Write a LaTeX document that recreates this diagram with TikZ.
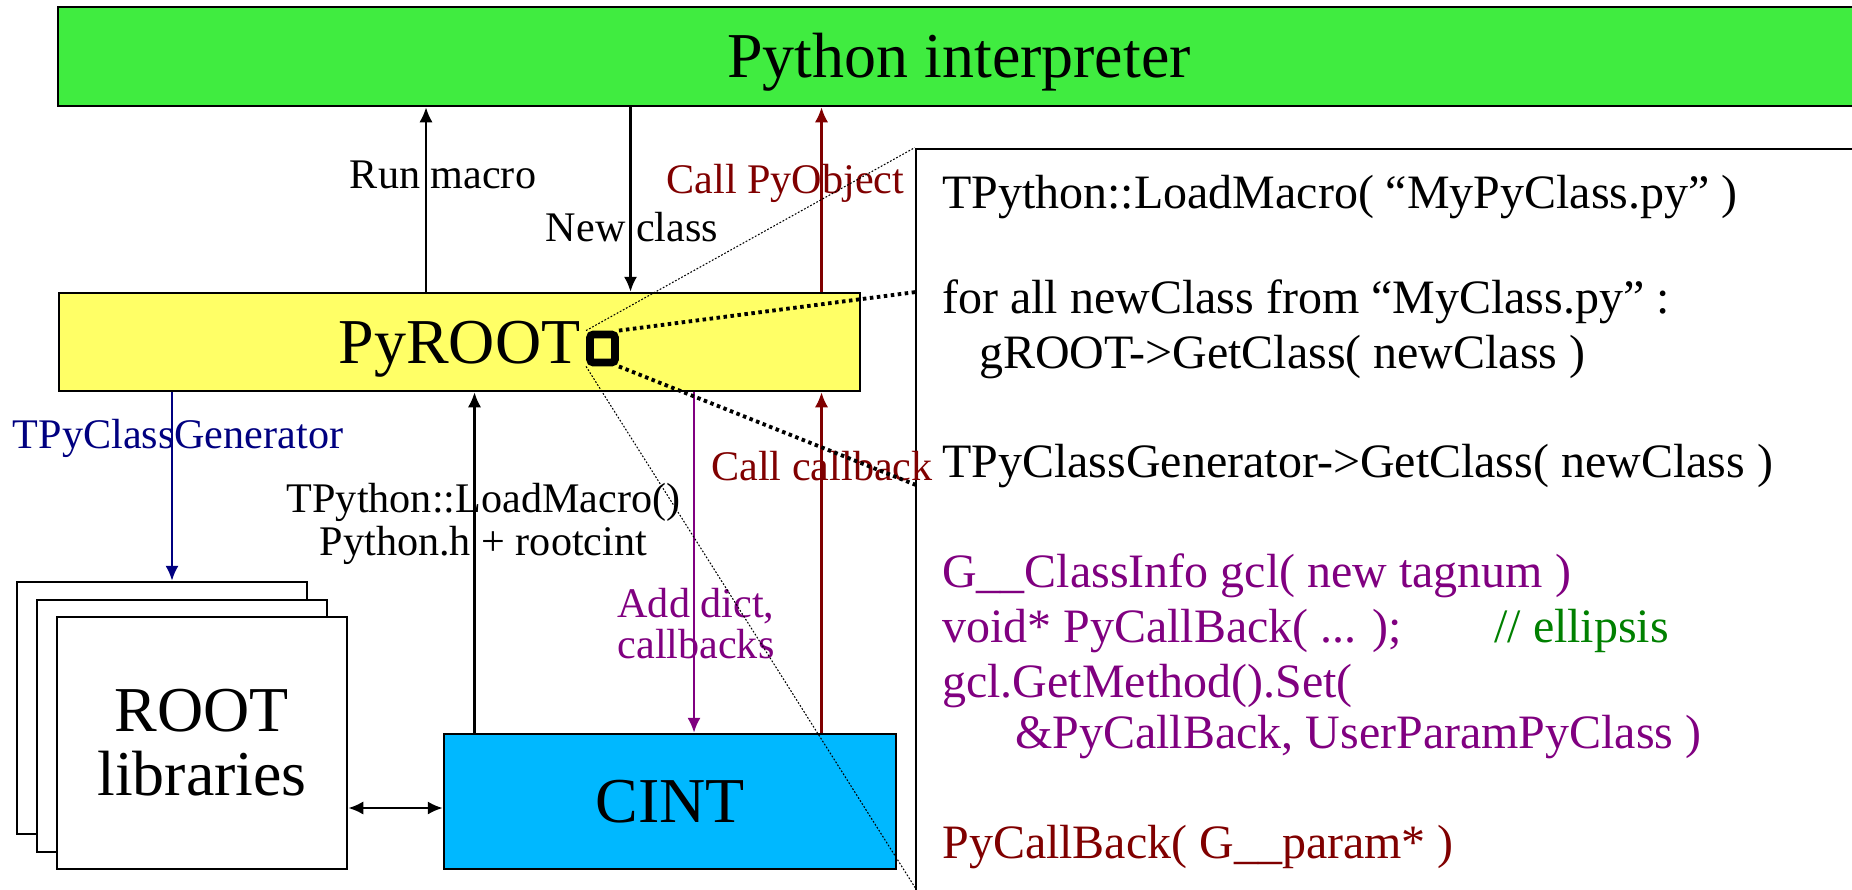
\documentclass[tikz,border=0pt]{standalone}
\usepackage{fontspec}
\setmainfont{Liberation Serif}
\usetikzlibrary{arrows.meta,positioning}

\definecolor{pygreen}{RGB}{64,236,64}
\definecolor{pyyellow}{RGB}{255,255,102}
\definecolor{cintblue}{RGB}{0,184,255}
\definecolor{darkred}{RGB}{128,0,0}
\definecolor{codepurple}{RGB}{128,0,128}
\definecolor{codenavy}{RGB}{0,0,128}
\definecolor{codegreen}{RGB}{0,128,0}

\def\px{0.02cm}

\begin{document}
\begin{tikzpicture}[x=\px, y=-\px,
    >={Latex[length=8.5pt,width=7.5pt]},
    box/.style={draw=black, line width=1.5pt, inner sep=0pt},
    bigtext/.style={font=\fontsize{36.4}{36.4}\selectfont, text height=24.1pt, text depth=0pt},
    lbl/.style={font=\fontsize{24}{28.8}\selectfont, anchor=base, inner sep=0pt},
    code/.style={font=\fontsize{27.3}{32}\selectfont, anchor=base west, inner sep=0pt},
    flow/.style={->, line width=1.2pt},
    zoomline/.style={line width=2.2pt, dash pattern=on 2pt off 2pt},
    thinzoom/.style={line width=0.6pt, dash pattern=on 1pt off 1pt}]

    % Page frame, same proportions as the original slide
    \clip (0,0) rectangle (1852,889);

    % Main boxes
    \node[box, bigtext, fill=pygreen, minimum width=1802*\px, minimum height=99*\px] (python) at (959,56.5) {Python interpreter};
    \node[box, bigtext, fill=pyyellow, minimum width=801*\px, minimum height=98*\px] (pyroot) at (459.5,342) {PyROOT};
    \node[box, bigtext, fill=cintblue, minimum width=452*\px, minimum height=135*\px] (cint) at (670,801.5) {CINT};

    % Stack of ROOT libraries
    \node[box, fill=white, minimum width=290*\px, minimum height=252*\px] (rootA) at (162,708) {};
    \node[box, fill=white, minimum width=290*\px, minimum height=252*\px] (rootB) at (182,726) {};
    \node[box, fill=white, font=\fontsize{36.4}{36.4}\selectfont, align=center,
          minimum width=290*\px, minimum height=252*\px] (rootC) at (202,743) {ROOT\\libraries};

    % Code box on the right (runs off the page)
    \node[draw=black, line width=1.5pt, minimum width=1000*\px, minimum height=900*\px] (code) at (1416,599) {};

    % Zoom marker next to PyROOT
    \node[draw=black, line width=4.5pt, rounded corners=2pt, minimum width=25*\px, minimum height=28*\px, inner sep=0pt] (zoom) at (602.5,348.5) {};

    % x positions of the vertical arrows
    \coordinate (xrun) at (426,0);
    \coordinate (xnew) at (630.5,0);
    \coordinate (xcall) at (821.5,0);
    \coordinate (xgen) at (172,0);
    \coordinate (xload) at (474.5,0);
    \coordinate (xdict) at (694,0);
    \coordinate (ylink) at (0,808);

    % Arrows between Python and PyROOT
    \draw[flow] (xrun |- pyroot.north) -- (xrun |- python.south);
    \draw[flow] (xnew |- python.south) -- (xnew |- pyroot.north);
    \draw[flow, darkred] (xcall |- pyroot.north) -- (xcall |- python.south);

    % Arrows below PyROOT
    \draw[flow, codenavy] (xgen |- pyroot.south) -- (xgen |- rootA.north);
    \draw[flow] (xload |- cint.north) -- (xload |- pyroot.south);
    \draw[flow, codepurple] (xdict |- pyroot.south) -- (xdict |- cint.north);
    \draw[flow, darkred] (xcall |- cint.north) -- (xcall |- pyroot.south);
    \draw[<->, line width=1.3pt] (rootC.east |- ylink) -- (cint.west |- ylink);

    % Arrow labels
    \node[lbl] (runlbl) at (443,188) {Run macro};
    \node[lbl] (newlbl) at (632,241) {New class};
    \node[lbl, darkred] (pyobjlbl) at (785.5,193) {Call PyObject};
    \node[lbl, codenavy] (genlbl) at (178,448) {TPyClassGenerator};
    \node[lbl] (loadlbl) at (483.5,512) {TPython::LoadMacro()};
    \node[lbl] (hdrlbl) at (483.5,555) {Python.h + rootcint};
    \node[lbl, codepurple] (dictlbl) at (696,617) {Add dict,};
    \node[lbl, codepurple] (cblbl) at (696,658) {callbacks};
    \node[lbl, darkred] (calllbl) at (822,480) {Call callback};

    % Zoom lines from the marker to the code box
    \coordinate (zoomtop) at (916,292);
    \coordinate (zoombot) at (916,485);
    \coordinate (cornerB) at (916,889);
    \draw[zoomline] (zoom.north east) -- (zoomtop);
    \draw[zoomline] (zoom.south east) -- (zoombot);
    \draw[thinzoom] (zoom.north west) -- (code.north west);
    \draw[thinzoom] (zoom.south west) -- (cornerB);

    % Code lines
    \node[code] (l1) at (942,208) {TPython::LoadMacro( “MyPyClass.py” )};
    \node[code] (l2) at (942,313) {for all newClass from “MyClass.py” :};
    \node[code] (l3) at (979,368) {gROOT->GetClass( newClass )};
    \node[code] (l4) at (942,477) {TPyClassGenerator->GetClass( newClass )};
    \node[code, codepurple] (l5) at (942,587) {G\_\_ClassInfo gcl( new tagnum )};
    \node[code, codepurple] (l6) at (942,642) {void* PyCallBack( ... );};
    \node[code, codegreen] (l6c) at (1494,642) {// ellipsis};
    \node[code, codepurple] (l7) at (942,697) {gcl.GetMethod().Set(};
    \node[code, codepurple] (l8) at (1015,748) {\&PyCallBack, UserParamPyClass )};
    \node[code, darkred] (l9) at (942,858) {PyCallBack( G\_\_param* )};

\end{tikzpicture}
\end{document}
